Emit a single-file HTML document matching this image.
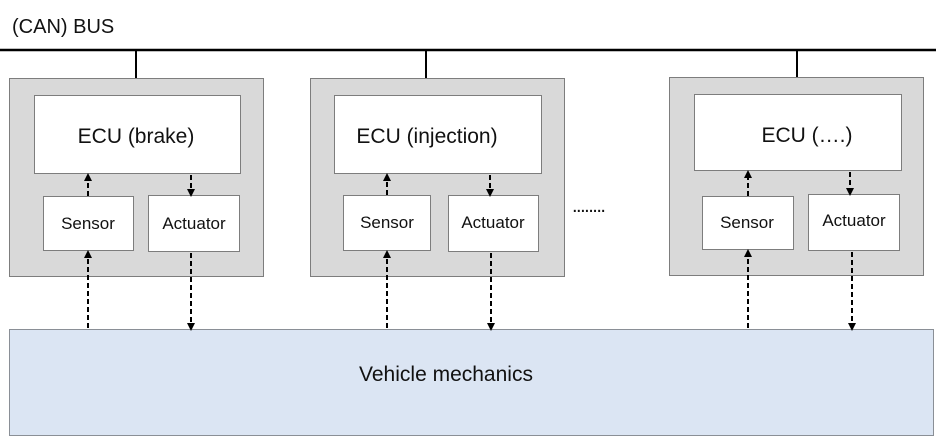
<!DOCTYPE html>
<html><head><style>body{margin:0;background:#fff}svg{display:block}</style></head><body>
<svg width="936" height="437" xmlns="http://www.w3.org/2000/svg" font-family="Liberation Sans, sans-serif">
<defs>
<marker id="a" markerUnits="userSpaceOnUse" markerWidth="8" markerHeight="8" refX="6" refY="4" orient="auto"><path d="M0,0 L8,4 L0,8z" fill="#000"/></marker>
</defs>
<text x="12" y="33" font-size="20" fill="#111">(CAN) BUS</text>
<line x1="0" y1="50" x2="936" y2="50" stroke="#000" stroke-width="2.5"/>
<rect x="9.5" y="329.5" width="924" height="106" fill="#dbe5f3" stroke="#8a8f96" stroke-width="1"/>
<text x="446" y="381" font-size="21" text-anchor="middle" fill="#111">Vehicle mechanics</text>
<text x="572" y="212" font-size="20" fill="#111" letter-spacing="-1.5">........</text>
<g stroke="#000" stroke-width="2">
<line x1="136" y1="50" x2="136" y2="78"/>
<line x1="426" y1="50" x2="426" y2="78"/>
<line x1="797" y1="50" x2="797" y2="77"/>
</g>
<g stroke="#7d7d7d" stroke-width="1">
<rect x="9.5" y="78.5" width="254" height="198" fill="#d9d9d9"/>
<rect x="310.5" y="78.5" width="254" height="198" fill="#d9d9d9"/>
<rect x="669.5" y="77.5" width="254" height="198" fill="#d9d9d9"/>
<g fill="#fff">
<rect x="34.5" y="95.5" width="206" height="78"/>
<rect x="43.5" y="196.5" width="90" height="54"/>
<rect x="148.5" y="195.5" width="91" height="56"/>
<rect x="334.5" y="95.5" width="207" height="78"/>
<rect x="343.5" y="195.5" width="87" height="55"/>
<rect x="448.5" y="195.5" width="90" height="56"/>
<rect x="694.5" y="94.5" width="207" height="76"/>
<rect x="702.5" y="196.5" width="91" height="53"/>
<rect x="808.5" y="194.5" width="91" height="56"/>
</g>
</g>
<g stroke="#000" stroke-width="2" stroke-dasharray="5,3" fill="none">
<line x1="88" y1="328" x2="88" y2="252" marker-end="url(#a)"/>
<line x1="88" y1="196" x2="88" y2="175" marker-end="url(#a)"/>
<line x1="191" y1="175" x2="191" y2="195" marker-end="url(#a)"/>
<line x1="191" y1="253" x2="191" y2="329" marker-end="url(#a)"/>
<line x1="387" y1="328" x2="387" y2="252" marker-end="url(#a)"/>
<line x1="387" y1="195" x2="387" y2="175" marker-end="url(#a)"/>
<line x1="490" y1="175" x2="490" y2="195" marker-end="url(#a)"/>
<line x1="491" y1="253" x2="491" y2="329" marker-end="url(#a)"/>
<line x1="748" y1="328" x2="748" y2="251" marker-end="url(#a)"/>
<line x1="748" y1="196" x2="748" y2="172" marker-end="url(#a)"/>
<line x1="850" y1="172" x2="850" y2="194" marker-end="url(#a)"/>
<line x1="852" y1="252" x2="852" y2="329" marker-end="url(#a)"/>
</g>
<g font-size="21" fill="#111" text-anchor="middle">
<text x="136" y="143">ECU (brake)</text>
<text x="427" y="143">ECU (injection)</text>
<text x="807" y="142">ECU (….)</text>
</g>
<g font-size="17" fill="#111" text-anchor="middle">
<text x="88" y="229">Sensor</text>
<text x="194" y="229">Actuator</text>
<text x="387" y="228">Sensor</text>
<text x="493" y="228">Actuator</text>
<text x="747" y="228">Sensor</text>
<text x="854" y="226">Actuator</text>
</g>
</svg>
</body></html>
